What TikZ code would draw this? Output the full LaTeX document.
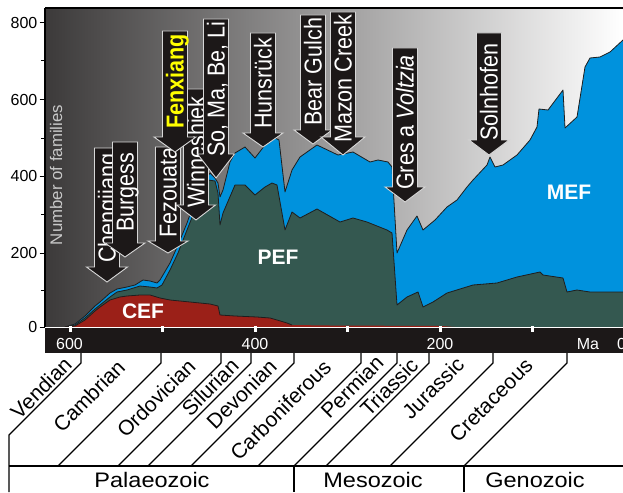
\documentclass[tikz,border=0pt]{standalone}
\usepackage{fontspec}
\setmainfont{Liberation Sans}
\newfontfamily\hfont[FakeStretch=1.12]{Liberation Sans}
\newfontfamily\vfont[FakeStretch=0.88]{Liberation Sans}
\definecolor{mefblue}{RGB}{0,146,221}
\definecolor{pefgreen}{RGB}{52,88,80}
\definecolor{cefred}{RGB}{155,32,24}
\definecolor{barblack}{RGB}{28,24,24}
\definecolor{bgdark}{RGB}{60,58,58}
\definecolor{outl}{RGB}{215,215,215}
\definecolor{fxyellow}{RGB}{255,255,0}
\definecolor{famgray}{RGB}{200,200,200}
\definecolor{curveline}{RGB}{30,30,30}
\newcommand\callout[8]{%
  \path[arrowbody] (#2-12.5,#3) -- (#2+12.5,#3) -- (#2+12.5,#4) -- (#2+#6,#4) -- (#2,#5) -- (#2-#6,#4) -- (#2-12.5,#4) -- cycle;
  \node[arrowlabel] (#1) at (#2+8.5,#7) {#8};
}
\begin{document}
\begin{tikzpicture}[x=1pt,y=-1pt,
  arrowbody/.style={fill=barblack, draw=outl, line width=0.9pt, line join=miter},
  arrowlabel/.style={text=white, font=\vfont\fontsize{24.5}{24.5}\selectfont, inner sep=0pt, rotate=90, anchor=base west},
  periodlabel/.style={font=\fontsize{21}{21}\selectfont, rotate=45, inner sep=0pt},
  eralabel/.style={font=\hfont\fontsize{21}{21}\selectfont, inner sep=0pt, anchor=base},
  axlabel/.style={font=\fontsize{16}{16}\selectfont, inner sep=0pt},
  arealabel/.style={font=\bfseries\fontsize{21}{21}\selectfont, text=white, inner sep=0pt},
  curve/.style={draw=curveline, line width=0.8pt, line join=round},
  rule/.style={black, line width=1.1pt}]
\useasboundingbox (0,0) rectangle (623,492);
\fill[white] (0,0) rectangle (623,492);
% background gradient
\fill[left color=bgdark, right color=white] (45,8) rectangle (623,327);
% MEF (total)
\fill[mefblue] (65,327) -- (75,324) -- (85,316) -- (95,306) -- (100,302) -- (110,293) -- (117,289) -- (127,287) -- (135,285) -- (143,280) -- (150,281) -- (157,283) -- (160,280) -- (170,263) -- (178,245) -- (187,223) -- (195,200) -- (203,183) -- (210,173) -- (215,178) -- (218,183) -- (220,197) -- (223,190) -- (230,162) -- (235,153) -- (245,147) -- (255,158) -- (265,145) -- (275,138) -- (279,140) -- (285,192) -- (292,170) -- (300,157) -- (317,145) -- (338,155) -- (353,152) -- (370,162) -- (378,160) -- (388,162) -- (392,167) -- (397,253) -- (407,230) -- (417,216) -- (423,230) -- (435,220) -- (447,207) -- (457,200) -- (467,187) -- (473,180) -- (487,165) -- (490,157) -- (495,167) -- (503,165) -- (517,155) -- (530,140) -- (537,127) -- (539,109) -- (548,110) -- (563,90) -- (565,128) -- (577,117) -- (585,67) -- (590,58) -- (600,57) -- (610,52) -- (623,40) -- (623,327) -- cycle;
\draw[curve] (65,327) -- (75,324) -- (85,316) -- (95,306) -- (100,302) -- (110,293) -- (117,289) -- (127,287) -- (135,285) -- (143,280) -- (150,281) -- (157,283) -- (160,280) -- (170,263) -- (178,245) -- (187,223) -- (195,200) -- (203,183) -- (210,173) -- (215,178) -- (218,183) -- (220,197) -- (223,190) -- (230,162) -- (235,153) -- (245,147) -- (255,158) -- (265,145) -- (275,138) -- (279,140) -- (285,192) -- (292,170) -- (300,157) -- (317,145) -- (338,155) -- (353,152) -- (370,162) -- (378,160) -- (388,162) -- (392,167) -- (397,253) -- (407,230) -- (417,216) -- (423,230) -- (435,220) -- (447,207) -- (457,200) -- (467,187) -- (473,180) -- (487,165) -- (490,157) -- (495,167) -- (503,165) -- (517,155) -- (530,140) -- (537,127) -- (539,109) -- (548,110) -- (563,90) -- (565,128) -- (577,117) -- (585,67) -- (590,58) -- (600,57) -- (610,52) -- (623,40);
% PEF
\fill[pefgreen] (65,327) -- (75,325) -- (85,318) -- (95,309) -- (100,305) -- (110,297) -- (117,292) -- (127,290) -- (140,286) -- (150,287) -- (157,288) -- (162,285) -- (170,270) -- (178,253) -- (187,230) -- (195,210) -- (203,190) -- (208,180) -- (215,181) -- (218,193) -- (220,225) -- (223,213) -- (235,185) -- (245,185) -- (255,195) -- (265,187) -- (272,183) -- (277,185) -- (285,230) -- (292,212) -- (300,218) -- (317,209) -- (340,222) -- (353,218) -- (367,222) -- (387,230) -- (392,233) -- (397,305) -- (407,297) -- (418,292) -- (423,307) -- (433,302) -- (447,293) -- (473,285) -- (497,283) -- (517,277) -- (540,272) -- (543,275) -- (563,278) -- (567,292) -- (577,290) -- (590,292) -- (623,292) -- (623,327) -- cycle;
\draw[curve] (65,327) -- (75,325) -- (85,318) -- (95,309) -- (100,305) -- (110,297) -- (117,292) -- (127,290) -- (140,286) -- (150,287) -- (157,288) -- (162,285) -- (170,270) -- (178,253) -- (187,230) -- (195,210) -- (203,190) -- (208,180) -- (215,181) -- (218,193) -- (220,225) -- (223,213) -- (235,185) -- (245,185) -- (255,195) -- (265,187) -- (272,183) -- (277,185) -- (285,230) -- (292,212) -- (300,218) -- (317,209) -- (340,222) -- (353,218) -- (367,222) -- (387,230) -- (392,233) -- (397,305) -- (407,297) -- (418,292) -- (423,307) -- (433,302) -- (447,293) -- (473,285) -- (497,283) -- (517,277) -- (540,272) -- (543,275) -- (563,278) -- (567,292) -- (577,290) -- (590,292) -- (623,292);
% CEF
\fill[cefred] (65,327) -- (75,326) -- (85,320) -- (95,311) -- (100,307) -- (110,300) -- (120,297) -- (127,296) -- (140,295) -- (150,295) -- (160,298) -- (170,300) -- (180,301) -- (200,303) -- (210,304) -- (218,306) -- (220,315) -- (235,316) -- (257,317) -- (270,318) -- (277,320) -- (287,323) -- (292,325) -- (330,325.5) -- (440,326) -- (455,327) -- cycle;
\draw[curve] (65,327) -- (75,326) -- (85,320) -- (95,311) -- (100,307) -- (110,300) -- (120,297) -- (127,296) -- (140,295) -- (150,295) -- (160,298) -- (170,300) -- (180,301) -- (200,303) -- (210,304) -- (218,306) -- (220,315) -- (235,316) -- (257,317) -- (270,318) -- (277,320) -- (287,323) -- (292,325);
% area labels
\node[arealabel] (cef) at (143,311) {CEF};
\node[arealabel] (pef) at (278,257) {PEF};
\node[arealabel] (mef) at (569,192) {MEF};
\node[rotate=90, text=famgray, font=\fontsize{16.8}{17}\selectfont, inner sep=0pt] (ylab) at (56,175) {Number of families};
% callout arrows: name, cx, top, headtop, tip, head half-width, text bottom, text
\callout{chengjiang}{107}{148}{267}{282}{20.5}{263}{Chengjiang}
\callout{burgess}{125}{142}{243}{257}{20}{232}{Burgess}
\callout{fezouata}{168}{147}{241}{253}{20}{238}{Fezouata}
\callout{winneshiek}{196}{89}{205}{220}{19.5}{208}{Winneshiek}
\callout{fenxiang}{175}{31}{137}{152}{21}{129}{\textcolor{fxyellow}{\bfseries Fenxiang}}
\callout{somabeli}{216}{19}{154}{178}{18.5}{157}{So, Ma, Be, Li}
\callout{hunsrueck}{263}{33}{133}{147}{20}{129}{Hunsrück}
\callout{beargulch}{313}{15}{130}{144}{19}{126}{Bear Gulch}
\callout{mazon}{343}{12}{137}{155}{22}{143}{Mazon Creek}
\callout{gres}{405}{48}{187}{202}{20}{190}{Gres a \textit{Voltzia}}
\callout{solnhofen}{489}{33}{140}{155}{20}{141}{Solnhofen}
% frame
\draw[black, line width=1.5pt] (45,8) -- (623,8);
\draw[black, line width=1.5pt] (45,8) -- (45,328);
% y axis ticks and labels
\foreach \ty in {327,253,176,99.5,23} \draw[black, line width=1pt] (39.5,\ty) -- (45,\ty);
\foreach \ty in {290,214.5,138,61} \draw[black, line width=1pt] (41,\ty) -- (45,\ty);
\node[axlabel, anchor=east] (y0) at (37.5,327) {0};
\node[axlabel, anchor=east] (y200) at (37.5,253) {200};
\node[axlabel, anchor=east] (y400) at (37.5,176) {400};
\node[axlabel, anchor=east] (y600) at (37.5,99.5) {600};
\node[axlabel, anchor=east] (y800) at (37.5,23) {800};
% time bar
\fill[barblack] (45,327.5) rectangle (623,353);
\draw[white, line width=1pt] (45,327) -- (623,327);
\foreach \tx in {70,162.5,255,347.5,440,532.5} \fill[white] (\tx-1.5,325.5) rectangle (\tx+1.5,332);
\node[axlabel, text=white] (x600) at (69.5,344) {600};
\node[axlabel, text=white] (x400) at (255,344) {400};
\node[axlabel, text=white] (x200) at (440,344) {200};
\node[axlabel, text=white] (xma) at (588,344) {Ma};
\node[axlabel, text=white] (x0) at (621.5,344) {0};
% period boundaries
\draw[rule] (81,353) -- (81,363) -- (9,435) -- (9,492);
\foreach \xb in {161,221,251,294,361,397,429,493,567}
  \draw[rule] (\xb,353) -- (\xb,363) -- (\xb-103,466);
\draw[rule] (8.5,466) -- (623,466);
\draw[rule] (294,466) -- (294,492);
\draw[rule] (464,466) -- (464,492);
% period labels
\node[periodlabel] (vendian) at (41,388) {Vendian};
\node[periodlabel] (cambrian) at (89,396) {Cambrian};
\node[periodlabel] (ordovician) at (156,398) {Ordovician};
\node[periodlabel] (silurian) at (210,387) {Silurian};
\node[periodlabel] (devonian) at (241.5,394) {Devonian};
\node[periodlabel] (carboniferous) at (280.5,410) {Carboniferous};
\node[periodlabel] (permian) at (352,387) {Permian};
\node[periodlabel] (triassic) at (389,387) {Triassic};
\node[periodlabel] (jurassic) at (433,388) {Jurassic};
\node[periodlabel] (cretaceous) at (491,400) {Cretaceous};
% era labels
\node[eralabel] (palaeozoic) at (152,487) {Palaeozoic};
\node[eralabel] (mesozoic) at (373,487) {Mesozoic};
\node[eralabel] (genozoic) at (535,487) {Genozoic};
\end{tikzpicture}
\end{document}
